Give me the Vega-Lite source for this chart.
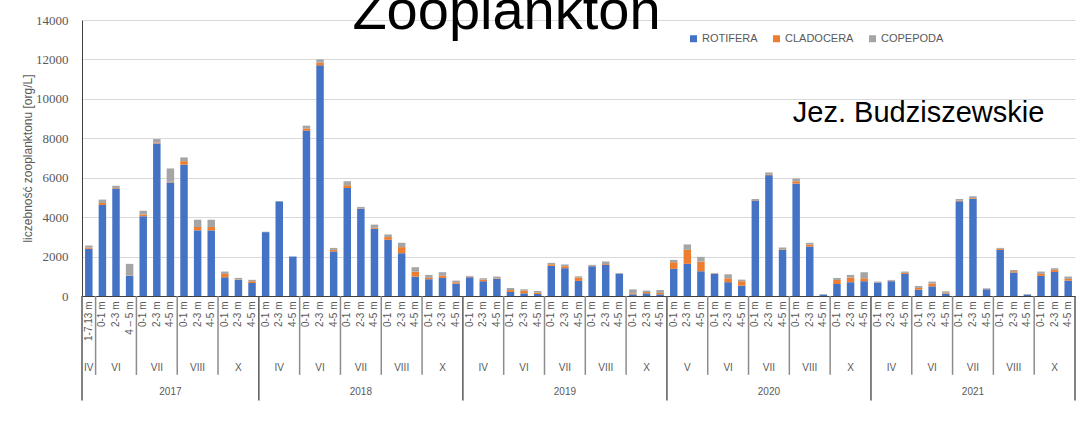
{
  "$schema": "https://vega.github.io/schema/vega-lite/v6.json",
  "width": 993,
  "height": 276,
  "autosize": {"type": "none"},
  "padding": {"left": 82, "top": 20, "right": 7, "bottom": 132},
  "background": "white",
  "title": {"text": "Zooplankton", "font": "Liberation Sans", "fontSize": 56, "fontWeight": "normal", "color": "#000000", "anchor": "middle", "frame": "group", "baseline": "alphabetic", "offset": -71, "dx": -72},
  "config": {
    "view": {"stroke": null},
    "numberFormat": "d",
    "axisY": {"labelOverlap": false, "titleFont": "Liberation Sans", "titleFontSize": 12, "titleFontWeight": "normal", "titleColor": "#595959", "titlePadding": 1, "labelFont": "Liberation Serif", "labelFontSize": 13, "labelColor": "#595959", "labelPadding": 14, "ticks": false, "grid": true, "gridColor": "#d9d9d9", "gridWidth": 1, "domain": true, "domainColor": "#404040", "domainWidth": 1},
    "axisX": {"labelAngle": -90, "labelAlign": "right", "labelBaseline": "middle", "labelFont": "Liberation Sans", "labelFontSize": 10, "labelColor": "#595959", "labelPadding": 5, "ticks": false, "domain": true, "domainColor": "#404040", "domainWidth": 1, "labelOverlap": false, "grid": false}
  },
  "resolve": {"axis": {"y": "independent"}},
  "datasets": {
    "bars": [
      {"k": "2017|IV|1-7.13 m", "ROTIFERA": 2400, "CLADOCERA": 60, "COPEPODA": 100},
      {"k": "2017|VI|0-1 m", "ROTIFERA": 4620, "CLADOCERA": 100, "COPEPODA": 170},
      {"k": "2017|VI|2-3 m", "ROTIFERA": 5450, "CLADOCERA": 30, "COPEPODA": 110},
      {"k": "2017|VI|4 – 5 m", "ROTIFERA": 1020, "CLADOCERA": 20, "COPEPODA": 590},
      {"k": "2017|VII|0-1 m", "ROTIFERA": 4040, "CLADOCERA": 90, "COPEPODA": 200},
      {"k": "2017|VII|2-3 m", "ROTIFERA": 7740, "CLADOCERA": 50, "COPEPODA": 170},
      {"k": "2017|VII|4-5 m", "ROTIFERA": 5760, "CLADOCERA": 30, "COPEPODA": 680},
      {"k": "2017|VIII|0-1 m", "ROTIFERA": 6660, "CLADOCERA": 180, "COPEPODA": 190},
      {"k": "2017|VIII|2-3 m", "ROTIFERA": 3330, "CLADOCERA": 170, "COPEPODA": 370},
      {"k": "2017|VIII|4-5 m", "ROTIFERA": 3330, "CLADOCERA": 170, "COPEPODA": 370},
      {"k": "2017|X|0-1 m", "ROTIFERA": 950, "CLADOCERA": 170, "COPEPODA": 120},
      {"k": "2017|X|2-3 m", "ROTIFERA": 815, "CLADOCERA": 20, "COPEPODA": 85},
      {"k": "2017|X|4-5 m", "ROTIFERA": 660, "CLADOCERA": 90, "COPEPODA": 70},
      {"k": "2018|IV|0-1 m", "ROTIFERA": 3240, "CLADOCERA": 0, "COPEPODA": 20},
      {"k": "2018|IV|2-3 m", "ROTIFERA": 4800, "CLADOCERA": 0, "COPEPODA": 20},
      {"k": "2018|IV|4-5 m", "ROTIFERA": 2000, "CLADOCERA": 0, "COPEPODA": 10},
      {"k": "2018|VI|0-1 m", "ROTIFERA": 8390, "CLADOCERA": 110, "COPEPODA": 140},
      {"k": "2018|VI|2-3 m", "ROTIFERA": 11700, "CLADOCERA": 140, "COPEPODA": 160},
      {"k": "2018|VI|4-5 m", "ROTIFERA": 2260, "CLADOCERA": 80, "COPEPODA": 100},
      {"k": "2018|VII|0-1 m", "ROTIFERA": 5480, "CLADOCERA": 140, "COPEPODA": 200},
      {"k": "2018|VII|2-3 m", "ROTIFERA": 4430, "CLADOCERA": 20, "COPEPODA": 70},
      {"k": "2018|VII|4-5 m", "ROTIFERA": 3410, "CLADOCERA": 50, "COPEPODA": 160},
      {"k": "2018|VIII|0-1 m", "ROTIFERA": 2850, "CLADOCERA": 140, "COPEPODA": 130},
      {"k": "2018|VIII|2-3 m", "ROTIFERA": 2170, "CLADOCERA": 310, "COPEPODA": 220},
      {"k": "2018|VIII|4-5 m", "ROTIFERA": 985, "CLADOCERA": 255, "COPEPODA": 220},
      {"k": "2018|X|0-1 m", "ROTIFERA": 850, "CLADOCERA": 70, "COPEPODA": 150},
      {"k": "2018|X|2-3 m", "ROTIFERA": 917, "CLADOCERA": 120, "COPEPODA": 170},
      {"k": "2018|X|4-5 m", "ROTIFERA": 630, "CLADOCERA": 70, "COPEPODA": 80},
      {"k": "2019|IV|0-1 m", "ROTIFERA": 950, "CLADOCERA": 30, "COPEPODA": 40},
      {"k": "2019|IV|2-3 m", "ROTIFERA": 750, "CLADOCERA": 80, "COPEPODA": 70},
      {"k": "2019|IV|4-5 m", "ROTIFERA": 865, "CLADOCERA": 30, "COPEPODA": 90},
      {"k": "2019|VI|0-1 m", "ROTIFERA": 205, "CLADOCERA": 100, "COPEPODA": 100},
      {"k": "2019|VI|2-3 m", "ROTIFERA": 135, "CLADOCERA": 135, "COPEPODA": 70},
      {"k": "2019|VI|4-5 m", "ROTIFERA": 100, "CLADOCERA": 70, "COPEPODA": 85},
      {"k": "2019|VII|0-1 m", "ROTIFERA": 1530, "CLADOCERA": 80, "COPEPODA": 70},
      {"k": "2019|VII|2-3 m", "ROTIFERA": 1410, "CLADOCERA": 100, "COPEPODA": 90},
      {"k": "2019|VII|4-5 m", "ROTIFERA": 765, "CLADOCERA": 170, "COPEPODA": 65},
      {"k": "2019|VIII|0-1 m", "ROTIFERA": 1510, "CLADOCERA": 20, "COPEPODA": 50},
      {"k": "2019|VIII|2-3 m", "ROTIFERA": 1580, "CLADOCERA": 40, "COPEPODA": 130},
      {"k": "2019|VIII|4-5 m", "ROTIFERA": 1120, "CLADOCERA": 10, "COPEPODA": 40},
      {"k": "2019|X|0-1 m", "ROTIFERA": 85, "CLADOCERA": 50, "COPEPODA": 200},
      {"k": "2019|X|2-3 m", "ROTIFERA": 135, "CLADOCERA": 70, "COPEPODA": 70},
      {"k": "2019|X|4-5 m", "ROTIFERA": 85, "CLADOCERA": 70, "COPEPODA": 150},
      {"k": "2020|V|0-1 m", "ROTIFERA": 1375, "CLADOCERA": 340, "COPEPODA": 115},
      {"k": "2020|V|2-3 m", "ROTIFERA": 1630, "CLADOCERA": 710, "COPEPODA": 275},
      {"k": "2020|V|4-5 m", "ROTIFERA": 1255, "CLADOCERA": 495, "COPEPODA": 235},
      {"k": "2020|VI|0-1 m", "ROTIFERA": 1120, "CLADOCERA": 20, "COPEPODA": 30},
      {"k": "2020|VI|2-3 m", "ROTIFERA": 700, "CLADOCERA": 200, "COPEPODA": 200},
      {"k": "2020|VI|4-5 m", "ROTIFERA": 525, "CLADOCERA": 225, "COPEPODA": 80},
      {"k": "2020|VII|0-1 m", "ROTIFERA": 4840, "CLADOCERA": 20, "COPEPODA": 60},
      {"k": "2020|VII|2-3 m", "ROTIFERA": 6130, "CLADOCERA": 40, "COPEPODA": 95},
      {"k": "2020|VII|4-5 m", "ROTIFERA": 2340, "CLADOCERA": 30, "COPEPODA": 90},
      {"k": "2020|VIII|0-1 m", "ROTIFERA": 5700, "CLADOCERA": 120, "COPEPODA": 140},
      {"k": "2020|VIII|2-3 m", "ROTIFERA": 2510, "CLADOCERA": 90, "COPEPODA": 100},
      {"k": "2020|VIII|4-5 m", "ROTIFERA": 70, "CLADOCERA": 0, "COPEPODA": 30},
      {"k": "2020|X|0-1 m", "ROTIFERA": 610, "CLADOCERA": 205, "COPEPODA": 100},
      {"k": "2020|X|2-3 m", "ROTIFERA": 700, "CLADOCERA": 235, "COPEPODA": 135},
      {"k": "2020|X|4-5 m", "ROTIFERA": 750, "CLADOCERA": 150, "COPEPODA": 305},
      {"k": "2021|IV|0-1 m", "ROTIFERA": 680, "CLADOCERA": 10, "COPEPODA": 40},
      {"k": "2021|IV|2-3 m", "ROTIFERA": 750, "CLADOCERA": 20, "COPEPODA": 45},
      {"k": "2021|IV|4-5 m", "ROTIFERA": 1120, "CLADOCERA": 50, "COPEPODA": 70},
      {"k": "2021|VI|0-1 m", "ROTIFERA": 320, "CLADOCERA": 90, "COPEPODA": 100},
      {"k": "2021|VI|2-3 m", "ROTIFERA": 490, "CLADOCERA": 140, "COPEPODA": 100},
      {"k": "2021|VI|4-5 m", "ROTIFERA": 120, "CLADOCERA": 50, "COPEPODA": 70},
      {"k": "2021|VII|0-1 m", "ROTIFERA": 4800, "CLADOCERA": 30, "COPEPODA": 90},
      {"k": "2021|VII|2-3 m", "ROTIFERA": 4920, "CLADOCERA": 40, "COPEPODA": 100},
      {"k": "2021|VII|4-5 m", "ROTIFERA": 340, "CLADOCERA": 10, "COPEPODA": 40},
      {"k": "2021|VIII|0-1 m", "ROTIFERA": 2340, "CLADOCERA": 50, "COPEPODA": 50},
      {"k": "2021|VIII|2-3 m", "ROTIFERA": 1190, "CLADOCERA": 70, "COPEPODA": 60},
      {"k": "2021|VIII|4-5 m", "ROTIFERA": 60, "CLADOCERA": 0, "COPEPODA": 40},
      {"k": "2021|X|0-1 m", "ROTIFERA": 1020, "CLADOCERA": 100, "COPEPODA": 120},
      {"k": "2021|X|2-3 m", "ROTIFERA": 1220, "CLADOCERA": 105, "COPEPODA": 85},
      {"k": "2021|X|4-5 m", "ROTIFERA": 780, "CLADOCERA": 85, "COPEPODA": 120}
    ],
    "mlab": [
      {"k": "2017|IV|1-7.13 m", "t": "IV"}, {"k": "2017|VI|2-3 m", "t": "VI"}, {"k": "2017|VII|2-3 m", "t": "VII"}, {"k": "2017|VIII|2-3 m", "t": "VIII"}, {"k": "2017|X|2-3 m", "t": "X"},
      {"k": "2018|IV|2-3 m", "t": "IV"}, {"k": "2018|VI|2-3 m", "t": "VI"}, {"k": "2018|VII|2-3 m", "t": "VII"}, {"k": "2018|VIII|2-3 m", "t": "VIII"}, {"k": "2018|X|2-3 m", "t": "X"},
      {"k": "2019|IV|2-3 m", "t": "IV"}, {"k": "2019|VI|2-3 m", "t": "VI"}, {"k": "2019|VII|2-3 m", "t": "VII"}, {"k": "2019|VIII|2-3 m", "t": "VIII"}, {"k": "2019|X|2-3 m", "t": "X"},
      {"k": "2020|V|2-3 m", "t": "V"}, {"k": "2020|VI|2-3 m", "t": "VI"}, {"k": "2020|VII|2-3 m", "t": "VII"}, {"k": "2020|VIII|2-3 m", "t": "VIII"}, {"k": "2020|X|2-3 m", "t": "X"},
      {"k": "2021|IV|2-3 m", "t": "IV"}, {"k": "2021|VI|2-3 m", "t": "VI"}, {"k": "2021|VII|2-3 m", "t": "VII"}, {"k": "2021|VIII|2-3 m", "t": "VIII"}, {"k": "2021|X|2-3 m", "t": "X"}
    ],
    "ylab": [
      {"k": "2017|VII|4-5 m", "t": "2017"}, {"k": "2018|VII|2-3 m", "t": "2018"}, {"k": "2019|VII|2-3 m", "t": "2019"}, {"k": "2020|VII|2-3 m", "t": "2020"}, {"k": "2021|VII|2-3 m", "t": "2021"}
    ],
    "sepM": [
      {"k": "2017|VI|0-1 m"}, {"k": "2017|VII|0-1 m"}, {"k": "2017|VIII|0-1 m"}, {"k": "2017|X|0-1 m"},
      {"k": "2018|VI|0-1 m"}, {"k": "2018|VII|0-1 m"}, {"k": "2018|VIII|0-1 m"}, {"k": "2018|X|0-1 m"},
      {"k": "2019|VI|0-1 m"}, {"k": "2019|VII|0-1 m"}, {"k": "2019|VIII|0-1 m"}, {"k": "2019|X|0-1 m"},
      {"k": "2020|VI|0-1 m"}, {"k": "2020|VII|0-1 m"}, {"k": "2020|VIII|0-1 m"}, {"k": "2020|X|0-1 m"},
      {"k": "2021|VI|0-1 m"}, {"k": "2021|VII|0-1 m"}, {"k": "2021|VIII|0-1 m"}, {"k": "2021|X|0-1 m"}
    ],
    "sepY": [
      {"k": "2017|IV|1-7.13 m"}, {"k": "2018|IV|0-1 m"}, {"k": "2019|IV|0-1 m"}, {"k": "2020|V|0-1 m"}, {"k": "2021|IV|0-1 m"}
    ],
    "sepEnd": [{"k": "2021|X|4-5 m"}],
    "note": [{"k": "2021|VI|0-1 m", "t": "Jez. Budziszewskie"}]
  },
  "layer": [
    {
      "data": {"name": "bars"},
      "transform": [{"fold": ["ROTIFERA", "CLADOCERA", "COPEPODA"], "as": ["grp", "val"]}],
      "mark": {"type": "bar", "width": {"band": 0.55}},
      "encoding": {
        "x": {
          "field": "k", "type": "nominal", "sort": null,
          "scale": {"paddingInner": 0, "paddingOuter": 0},
          "axis": {"title": null, "labelExpr": "split(datum.value, '|')[2]"}
        },
        "y": {
          "field": "val", "type": "quantitative", "stack": "zero",
          "scale": {"domain": [0, 14000], "nice": false},
          "axis": {"values": [0, 2000, 4000, 6000, 8000, 10000, 12000, 14000], "format": "d", "labelOverlap": false, "title": "liczebność zooplanktonu [org/L]", "titleFont": "Liberation Sans", "titleFontSize": 12, "titleFontWeight": "normal", "titleColor": "#595959", "titlePadding": 1, "labelFont": "Liberation Serif", "labelFontSize": 13, "labelColor": "#595959", "labelPadding": 14, "ticks": false, "grid": true, "gridColor": "#d9d9d9", "gridWidth": 1, "domain": true, "domainColor": "#404040", "domainWidth": 1}
        },
        "color": {
          "field": "grp", "type": "nominal",
          "scale": {"domain": ["ROTIFERA", "CLADOCERA", "COPEPODA"], "range": ["#4472C4", "#ED7D31", "#A5A5A5"]},
          "legend": {"orient": "none", "legendX": 606, "legendY": 13, "direction": "horizontal", "title": null, "symbolType": "square", "symbolSize": 49, "symbolStrokeWidth": 0, "labelFont": "Liberation Sans", "labelFontSize": 11, "labelColor": "#595959", "columnPadding": 13, "labelOffset": 3, "padding": 0}
        },
        "order": {"field": "k", "type": "ordinal"}
      }
    },
    {
      "data": {"name": "sepM"},
      "mark": {"type": "rule", "color": "#8c8c8c", "strokeWidth": 1.5},
      "encoding": {
        "x": {"field": "k", "type": "nominal", "sort": null, "bandPosition": 0},
        "y": {"datum": 0, "axis": null},
        "y2": {"datum": -4000}
      }
    },
    {
      "data": {"name": "sepY"},
      "mark": {"type": "rule", "color": "#595959", "strokeWidth": 1.5},
      "encoding": {
        "x": {"field": "k", "type": "nominal", "sort": null, "bandPosition": 0},
        "y": {"datum": 0, "axis": null},
        "y2": {"datum": -5300}
      }
    },
    {
      "data": {"name": "sepEnd"},
      "mark": {"type": "rule", "color": "#595959", "strokeWidth": 1.5},
      "encoding": {
        "x": {"field": "k", "type": "nominal", "sort": null, "bandPosition": 1},
        "y": {"datum": 0, "axis": null},
        "y2": {"datum": -5300}
      }
    },
    {
      "data": {"name": "mlab"},
      "mark": {"type": "text", "font": "Liberation Sans", "fontSize": 10, "color": "#595959", "baseline": "middle", "align": "center"},
      "encoding": {
        "x": {"field": "k", "type": "nominal", "sort": null},
        "y": {"datum": -3650, "axis": null},
        "text": {"field": "t"}
      }
    },
    {
      "data": {"name": "ylab"},
      "mark": {"type": "text", "font": "Liberation Sans", "fontSize": 10, "color": "#595959", "baseline": "middle", "align": "center"},
      "encoding": {
        "x": {"field": "k", "type": "nominal", "sort": null},
        "y": {"datum": -4870, "axis": null},
        "text": {"field": "t"}
      }
    },
    {
      "data": {"name": "note"},
      "mark": {"type": "text", "font": "Liberation Sans", "fontSize": 29, "color": "#000000", "baseline": "middle", "align": "center"},
      "encoding": {
        "x": {"field": "k", "type": "nominal", "sort": null},
        "y": {"datum": 9300, "axis": null},
        "text": {"field": "t"}
      }
    }
  ]
}
